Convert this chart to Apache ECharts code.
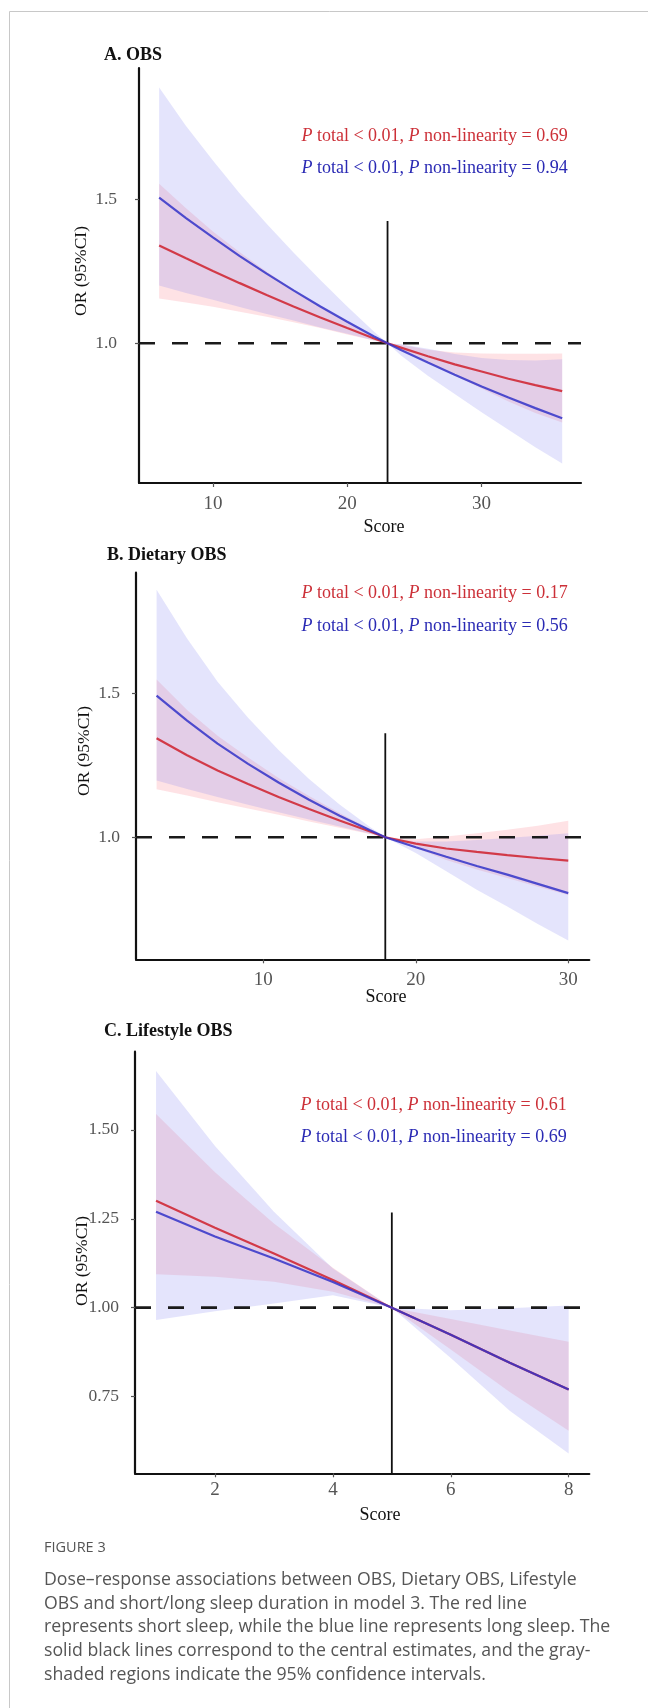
<!DOCTYPE html>
<html>
<head>
<meta charset="utf-8">
<script src="https://cdn.jsdelivr.net/npm/echarts@6/dist/echarts.min.js"></script>
<style>
  html, body { margin: 0; padding: 0; background: #fff; }
  #chart { width: 648px; height: 1708px; }
</style>
</head>
<body>
<div id="chart"></div>
<script>
// ---- data ----
// A. OBS
const xA = [6, 8, 10, 12, 14, 16, 18, 20, 22, 23, 24, 26, 28, 30, 32, 34, 36];
const redA = [1.34, 1.295, 1.251, 1.209, 1.168, 1.128, 1.09, 1.053, 1.017, 1.0, 0.985, 0.955, 0.927, 0.902, 0.877, 0.855, 0.834];
const redLoA = [1.156, 1.142, 1.127, 1.11, 1.092, 1.073, 1.053, 1.031, 1.01, 1.0, 0.975, 0.933, 0.888, 0.843, 0.798, 0.758, 0.725];
const redHiA = [1.554, 1.469, 1.388, 1.316, 1.249, 1.186, 1.129, 1.075, 1.024, 1.0, 0.995, 0.978, 0.968, 0.965, 0.964, 0.964, 0.965];
const blueA = [1.506, 1.435, 1.368, 1.303, 1.242, 1.184, 1.128, 1.075, 1.024, 1.0, 0.977, 0.933, 0.891, 0.85, 0.812, 0.775, 0.74];
const blueLoA = [1.201, 1.175, 1.151, 1.126, 1.102, 1.079, 1.055, 1.033, 1.01, 1.0, 0.958, 0.887, 0.824, 0.761, 0.70, 0.639, 0.583];
const blueHiA = [1.888, 1.755, 1.635, 1.52, 1.415, 1.315, 1.22, 1.128, 1.04, 1.0, 0.997, 0.981, 0.963, 0.949, 0.942, 0.94, 0.945];

// B. Dietary OBS
const xB = [3, 5, 7, 9, 11, 13, 15, 17, 18, 20, 22, 24, 26, 28, 30];
const redB = [1.344, 1.285, 1.232, 1.185, 1.14, 1.098, 1.058, 1.02, 1.0, 0.978, 0.961, 0.949, 0.938, 0.928, 0.919];
const redLoB = [1.167, 1.145, 1.122, 1.10, 1.078, 1.055, 1.033, 1.011, 1.0, 0.963, 0.921, 0.888, 0.858, 0.828, 0.799];
const redHiB = [1.548, 1.442, 1.353, 1.277, 1.206, 1.143, 1.084, 1.029, 1.0, 0.993, 1.003, 1.014, 1.026, 1.04, 1.057];
const blueB = [1.492, 1.405, 1.325, 1.255, 1.19, 1.13, 1.075, 1.024, 1.0, 0.965, 0.932, 0.90, 0.87, 0.838, 0.806];
const blueLoB = [1.197, 1.168, 1.14, 1.113, 1.087, 1.062, 1.037, 1.012, 1.0, 0.945, 0.882, 0.818, 0.759, 0.699, 0.641];
const blueHiB = [1.86, 1.69, 1.54, 1.415, 1.303, 1.202, 1.114, 1.036, 1.0, 0.985, 0.985, 0.99, 0.997, 1.005, 1.014];

// C. Lifestyle OBS
const xC = [1, 2, 3, 4, 5, 6, 7, 8];
const redC = [1.301, 1.225, 1.152, 1.078, 1.0, 0.924, 0.845, 0.77];
const redLoC = [1.094, 1.087, 1.073, 1.045, 1.0, 0.882, 0.763, 0.654];
const redHiC = [1.545, 1.381, 1.237, 1.112, 1.0, 0.968, 0.936, 0.904];
const blueC = [1.27, 1.2, 1.138, 1.072, 1.0, 0.924, 0.845, 0.77];
const blueLoC = [0.965, 0.99, 1.012, 1.035, 1.0, 0.858, 0.71, 0.59];
const blueHiC = [1.666, 1.455, 1.27, 1.11, 1.0, 0.993, 0.998, 1.006];

// reference score (vertical line) and how high it reaches
const refX = [23, 18, 5];
const refTop = [1.425, 1.361, 1.268];

const titles = ['A. OBS', 'B. Dietary OBS', 'C. Lifestyle OBS'];
const pShort = ['0.69', '0.17', '0.61'];
const pLong = ['0.94', '0.56', '0.69'];

const xTicksA = [10, 20, 30];
const xTicksB = [10, 20, 30];
const xTicksC = [2, 4, 6, 8];
const yTicksA = [1.0, 1.5];
const yTicksB = [1.0, 1.5];
const yTicksC = [0.75, 1.0, 1.25, 1.5];

// ---- layout ----
const SERIF = "'Liberation Serif', 'Times New Roman', serif";
const SANS = "'Open Sans', sans-serif";
const RED = '#d23a48';
const BLUE = '#3232c8';
const PINK_FILL = 'rgba(250,150,160,0.28)';
const LAV_FILL = 'rgba(130,130,240,0.22)';

const panels = [
  { x: xA, red: redA, redLo: redLoA, redHi: redHiA, blue: blueA, blueLo: blueLoA, blueHi: blueHiA,
    xTicks: xTicksA, yTicks: yTicksA, digits: 1,
    xMin: 4.5, xMax: 37.4, yMin: 0.515, yMax: 1.956,
    grid: { left: 139, top: 68, width: 442, height: 415 },
    xMargin: 12, yMargin: 22,
    title: [104, 55], pRight: 567.7, pY: [136.7, 168], yName: [81.6, 271], score: [384, 527] },
  { x: xB, red: redB, redLo: redLoB, redHi: redHiB, blue: blueB, blueLo: blueLoB, blueHi: blueHiB,
    xTicks: xTicksB, yTicks: yTicksB, digits: 1,
    xMin: 1.65, xMax: 31.38, yMin: 0.576, yMax: 1.919,
    grid: { left: 136, top: 572.7, width: 453.3, height: 386.6 },
    xMargin: 11, yMargin: 16,
    title: [107, 555], pRight: 567.7, pY: [593.3, 626], yName: [84.7, 751], score: [386, 997.3] },
  { x: xC, red: redC, redLo: redLoC, redHi: redHiC, blue: blueC, blueLo: blueLoC, blueHi: blueHiC,
    xTicks: xTicksC, yTicks: yTicksC, digits: 2,
    xMin: 0.643, xMax: 8.35, yMin: 0.534, yMax: 1.72,
    grid: { left: 135, top: 1051.7, width: 454.3, height: 421.6 },
    xMargin: 7, yMargin: 16,
    title: [104, 1031.7], pRight: 566.7, pY: [1105, 1137.7], yName: [82.6, 1261], score: [380, 1515] }
];

function bandSeries(idx, xs, lo, hi, fill) {
  return {
    type: 'custom',
    xAxisIndex: idx,
    yAxisIndex: idx,
    silent: true,
    z: 2,
    data: xs.map((v, i) => [v, lo[i], hi[i]]),
    encode: { x: 0, y: [1, 2] },
    renderItem: function (params, api) {
      if (params.dataIndex !== 0) return null;
      const pts = [];
      for (let i = 0; i < xs.length; i++) pts.push(api.coord([xs[i], hi[i]]));
      for (let i = xs.length - 1; i >= 0; i--) pts.push(api.coord([xs[i], lo[i]]));
      return { type: 'polygon', shape: { points: pts }, style: { fill: fill } };
    }
  };
}

function lineSeries(idx, xs, ys, color, opacity, z) {
  return {
    type: 'line',
    xAxisIndex: idx,
    yAxisIndex: idx,
    data: xs.map((v, i) => [v, ys[i]]),
    showSymbol: false,
    symbol: 'none',
    silent: true,
    z: z,
    lineStyle: { color: color, width: 2.2, opacity: opacity }
  };
}

const grids = [], xAxes = [], yAxes = [], series = [], graphics = [];

panels.forEach(function (p, k) {
  grids.push(Object.assign({ containLabel: false }, p.grid));
  xAxes.push({
    type: 'value', gridIndex: k, min: p.xMin, max: p.xMax,
    splitLine: { show: false },
    axisLine: { show: true, onZero: false, lineStyle: { color: '#111', width: 2.2 } },
    axisTick: { show: true, customValues: p.xTicks, length: 4, lineStyle: { color: '#555', width: 1.2 } },
    axisLabel: { customValues: p.xTicks, color: '#555', fontSize: 19, fontFamily: SERIF, margin: p.xMargin }
  });
  yAxes.push({
    type: 'value', gridIndex: k, min: p.yMin, max: p.yMax,
    splitLine: { show: false },
    axisLine: { show: true, onZero: false, lineStyle: { color: '#111', width: 2.2 } },
    axisTick: { show: true, customValues: p.yTicks, length: 4, lineStyle: { color: '#555', width: 1.2 } },
    axisLabel: {
      customValues: p.yTicks, color: '#555', fontSize: 17.5, fontFamily: SERIF, margin: p.yMargin,
      formatter: function (v) { return Number(v).toFixed(p.digits); }
    }
  });

  // confidence bands: pink (short sleep) then lavender (long sleep) on top
  series.push(bandSeries(k, p.x, p.redLo, p.redHi, PINK_FILL));
  series.push(bandSeries(k, p.x, p.blueLo, p.blueHi, LAV_FILL));

  // reference lines
  series.push({
    type: 'line', xAxisIndex: k, yAxisIndex: k, silent: true, z: 3,
    showSymbol: false, symbol: 'none',
    data: [[p.xMin, 1], [p.xMax, 1]],
    lineStyle: { color: '#1a1a1a', width: 2.6, type: [16, 17] }
  });
  series.push({
    type: 'line', xAxisIndex: k, yAxisIndex: k, silent: true, z: 3,
    showSymbol: false, symbol: 'none',
    data: [[refX[k], p.yMin], [refX[k], refTop[k]]],
    lineStyle: { color: '#111', width: 1.8 }
  });

  // estimate curves
  series.push(lineSeries(k, p.x, p.red, RED, 1, 4));
  series.push(lineSeries(k, p.x, p.blue, BLUE, 0.85, 5));

  // texts
  graphics.push({
    type: 'text', x: p.title[0], y: p.title[1],
    style: { text: titles[k], fill: '#111', fontSize: 18, fontWeight: 'bold', fontFamily: SERIF,
             align: 'left', verticalAlign: 'middle' }
  });
  const rich = { i: { fontStyle: 'italic', fontSize: 18, fontFamily: SERIF } };
  graphics.push({
    type: 'text', x: p.pRight, y: p.pY[0],
    style: { text: '{i|P} total < 0.01, {i|P} non-linearity = ' + pShort[k], fill: '#cc3038',
             fontSize: 18, fontFamily: SERIF, align: 'right', verticalAlign: 'middle', rich: rich }
  });
  graphics.push({
    type: 'text', x: p.pRight, y: p.pY[1],
    style: { text: '{i|P} total < 0.01, {i|P} non-linearity = ' + pLong[k], fill: '#2a2ab4',
             fontSize: 18, fontFamily: SERIF, align: 'right', verticalAlign: 'middle', rich: rich }
  });
  graphics.push({
    type: 'text', x: p.yName[0], y: p.yName[1], rotation: Math.PI / 2,
    style: { text: 'OR (95%CI)', fill: '#111', fontSize: 17.5, fontFamily: SERIF,
             align: 'center', verticalAlign: 'middle' }
  });
  graphics.push({
    type: 'text', x: p.score[0], y: p.score[1],
    style: { text: 'Score', fill: '#111', fontSize: 18, fontFamily: SERIF,
             align: 'center', verticalAlign: 'middle' }
  });
});

// frame + caption
graphics.push({
  type: 'rect', shape: { x: 9.5, y: 11.5, width: 720, height: 1800 },
  style: { fill: 'none', stroke: '#c8c8c8', lineWidth: 1 }, silent: true
});
graphics.push({
  type: 'text', x: 44, y: 1548,
  style: { text: 'FIGURE 3', fill: '#555', fontSize: 14.5, fontFamily: SANS,
           align: 'left', verticalAlign: 'middle' }
});
graphics.push({
  type: 'text', x: 44, y: 1568,
  style: {
    text: 'Dose\u2013response associations between OBS, Dietary OBS, Lifestyle\n' +
          'OBS and short/long sleep duration in model 3. The red line\n' +
          'represents short sleep, while the blue line represents long sleep. The\n' +
          'solid black lines correspond to the central estimates, and the gray-\n' +
          'shaded regions indicate the 95% confidence intervals.',
    fill: '#555', fontSize: 17.7, lineHeight: 23.75, fontFamily: SANS,
    align: 'left', verticalAlign: 'top'
  }
});

const chart = echarts.init(document.getElementById('chart'), null, { renderer: 'canvas' });
chart.setOption({
  animation: false,
  backgroundColor: '#fff',
  grid: grids,
  xAxis: xAxes,
  yAxis: yAxes,
  series: series,
  graphic: graphics
});
</script>
</body>
</html>
